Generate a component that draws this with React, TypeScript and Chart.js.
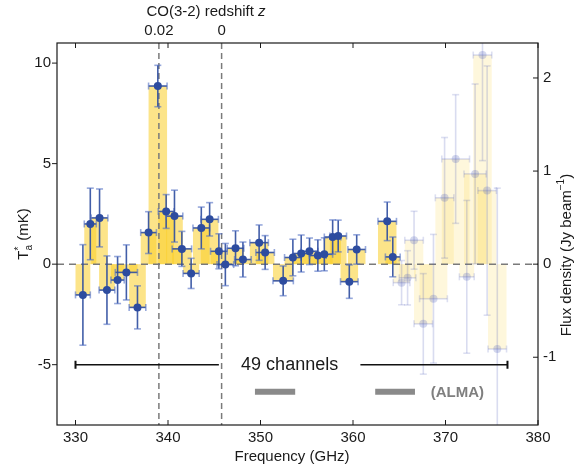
import React, { useEffect, useRef } from "react";
import { Chart, registerables } from "chart.js";
Chart.register(...registerables);

// Main (solid) channels: frequency (GHz), T*a (mK), 1-sigma error (mK), half channel width (GHz)
const freqMain = [330.8, 331.6, 332.6, 333.4, 334.55, 335.5, 336.7, 337.9, 338.9, 339.8, 340.7, 341.5, 342.5, 343.6, 344.5, 345.5, 346.2, 347.3, 348.1, 349.85, 350.5, 352.45, 353.5, 354.4, 355.3, 356.2, 356.9, 357.8, 358.4, 359.6, 360.4, 363.7, 364.3];
const taMain = [-1.53, 2.0, 2.3, -1.29, -0.79, -0.41, -2.15, 1.57, 8.86, 2.62, 2.39, 0.76, -0.46, 1.8, 2.23, 0.64, -0.02, 0.79, 0.23, 1.07, 0.58, -0.83, 0.33, 0.53, 0.64, 0.43, 0.49, 1.35, 1.4, -0.87, 0.73, 2.13, 0.36];
const errMain = [2.5, 1.78, 1.44, 1.7, 1.17, 1.37, 1.07, 1.04, 1.03, 0.84, 1.29, 0.87, 0.75, 1.04, 0.83, 0.87, 1.05, 0.87, 0.87, 0.88, 0.84, 0.74, 0.91, 0.92, 0.66, 0.78, 0.82, 0.85, 0.79, 0.83, 0.73, 0.96, 0.99];
const halfMain = [0.8, 0.65, 0.9, 0.85, 0.72, 1.2, 0.9, 0.85, 1.0, 0.85, 0.9, 1.05, 0.87, 0.9, 0.95, 0.9, 0.9, 0.9, 0.9, 1.0, 1.0, 1.1, 0.9, 0.9, 0.9, 0.9, 0.9, 0.9, 0.9, 0.95, 0.95, 1.0, 0.8];

// Faded (edge) channels
const freqFaint = [365.25, 365.9, 366.6, 367.6, 368.7, 369.9, 371.1, 372.3, 373.2, 374.0, 374.5, 375.6];
const taFaint = [-0.92, -0.68, 1.19, -2.97, -1.72, 3.3, 5.23, -0.63, 4.49, 10.4, 3.66, -4.22];
const errFaint = [1.1, 1.35, 1.44, 2.5, 3.2, 3.0, 3.2, 3.8, 4.47, 5.25, 6.2, 8.0];
const halfFaint = [0.9, 0.9, 1.0, 1.0, 1.5, 1.0, 1.5, 0.8, 1.2, 1.0, 1.0, 1.0];

// Axes
const xTicks = [330, 340, 350, 360, 370, 380];
const yTicks = [-5, 0, 5, 10];
const fluxTicks = [-1, 0, 1, 2];
const zTicks = [0.02, 0];
const CO32_REST = 345.796; // GHz
const MK_PER_JY = 4.63;
const X_MIN = 328, X_MAX = 380, Y_MIN = -8, Y_MAX = 11;

// Annotations (data units)
const channelSpan = [330, 376.7];
const channelGap = [345.5, 360.8];
const channelLevel = -5;
const almaRanges = [[349.4, 353.75], [362.4, 366.7]];
const almaLevel = -6.34;
const almaLabelFreq = 368.4;

const FONT = "'Liberation Sans', Arial, Helvetica, sans-serif";
const BLUE = "rgb(45,76,159)";

function zToFreq(z: number) {
  return CO32_REST / (1 + z);
}

function drawSegments(ctx: CanvasRenderingContext2D, segs: any[], cx: number, cy: number) {
  // segs: {text, size, dy, italic, stackWithPrev}
  let total = 0;
  const widths: number[] = [];
  segs.forEach((s) => {
    ctx.font = `${s.italic ? "italic " : ""}${s.size}px ${FONT}`;
    const w = ctx.measureText(s.text).width;
    widths.push(w);
  });
  segs.forEach((s, i) => {
    if (s.stack) {
      total += Math.max(0, widths[i] - widths[i - 1]);
    } else total += widths[i];
  });
  let x = cx - total / 2;
  let prevX = x;
  segs.forEach((s, i) => {
    ctx.font = `${s.italic ? "italic " : ""}${s.size}px ${FONT}`;
    ctx.textBaseline = "middle";
    ctx.textAlign = "left";
    if (s.stack) {
      ctx.fillText(s.text, prevX, cy + s.dy);
      x = Math.max(x, prevX + widths[i]);
    } else {
      ctx.fillText(s.text, x, cy + s.dy);
      prevX = x;
      x += widths[i];
    }
  });
}

const customPlugin = {
  id: "spectrumDecor",
  beforeDatasetsDraw(chart: any) {
    const { ctx, chartArea: a, scales } = chart;
    const xs = scales.x, ys = scales.y;
    ctx.save();
    ctx.beginPath();
    ctx.rect(a.left, a.top, a.right - a.left, a.bottom - a.top);
    ctx.clip();
    const bar = (f: number, v: number, h: number, color: string) => {
      const x0 = xs.getPixelForValue(f - h), x1 = xs.getPixelForValue(f + h);
      const y0 = ys.getPixelForValue(0), y1 = ys.getPixelForValue(v);
      ctx.fillStyle = color;
      ctx.fillRect(x0, Math.min(y0, y1), x1 - x0, Math.abs(y1 - y0));
    };
    freqFaint.forEach((f, i) => bar(f, taFaint[i], halfFaint[i], "rgba(250,205,40,0.16)"));
    freqMain.forEach((f, i) => bar(f, taMain[i], halfMain[i], "rgba(250,205,40,0.55)"));

    // dashed reference lines
    ctx.strokeStyle = "#7a7a7a";
    ctx.lineWidth = 1.5;
    ctx.setLineDash([7, 5]);
    const y0 = ys.getPixelForValue(0);
    ctx.beginPath();
    ctx.moveTo(a.left, y0);
    ctx.lineTo(a.right, y0);
    ctx.stroke();
    ctx.setLineDash([6, 4]);
    zTicks.forEach((z) => {
      const px = xs.getPixelForValue(zToFreq(z));
      ctx.beginPath();
      ctx.moveTo(px, a.top);
      ctx.lineTo(px, a.bottom);
      ctx.stroke();
    });
    ctx.setLineDash([]);

    const line = (x1: number, y1: number, x2: number, y2: number) => {
      ctx.beginPath();
      ctx.moveTo(x1, y1);
      ctx.lineTo(x2, y2);
      ctx.stroke();
    };
    const err = (f: number, v: number, e: number, h: number, lc: string, cc: string) => {
      const px = xs.getPixelForValue(f), py = ys.getPixelForValue(v);
      const pt = ys.getPixelForValue(v + e), pb = ys.getPixelForValue(v - e);
      const pl = xs.getPixelForValue(f - h), pr = xs.getPixelForValue(f + h);
      ctx.lineWidth = 1.6;
      ctx.strokeStyle = lc;
      line(px, pt, px, pb);
      line(pl, py, pr, py);
      ctx.strokeStyle = cc;
      const c = 3.5;
      line(px - c, pt, px + c, pt);
      line(px - c, pb, px + c, pb);
      line(pl, py - c, pl, py + c);
      line(pr, py - c, pr, py + c);
    };
    freqFaint.forEach((f, i) => err(f, taFaint[i], errFaint[i], halfFaint[i], "rgba(80,95,185,0.22)", "rgba(80,95,185,0.2)"));
    freqMain.forEach((f, i) => err(f, taMain[i], errMain[i], halfMain[i], "rgba(45,76,159,0.9)", "rgba(80,110,195,0.6)"));
    ctx.restore();
  },
  afterDraw(chart: any) {
    const { ctx, chartArea: a, scales } = chart;
    const xs = scales.x, ys = scales.y, yr = scales.yR;
    ctx.save();
    // frame
    ctx.strokeStyle = "#1a1a1a";
    ctx.lineWidth = 1.2;
    ctx.strokeRect(a.left, a.top, a.right - a.left, a.bottom - a.top);
    // tick marks
    ctx.lineWidth = 1;
    const tl = 5;
    xTicks.forEach((v) => {
      const px = xs.getPixelForValue(v);
      ctx.beginPath();
      ctx.moveTo(px, a.bottom);
      ctx.lineTo(px, a.bottom - tl);
      ctx.moveTo(px, a.top);
      ctx.lineTo(px, a.top + tl);
      ctx.stroke();
    });
    yTicks.forEach((v) => {
      const py = ys.getPixelForValue(v);
      ctx.beginPath();
      ctx.moveTo(a.left, py);
      ctx.lineTo(a.left - tl, py);
      ctx.stroke();
    });
    fluxTicks.forEach((v) => {
      const py = yr.getPixelForValue(v);
      ctx.beginPath();
      ctx.moveTo(a.right, py);
      ctx.lineTo(a.right - tl, py);
      ctx.stroke();
    });

    // 49 channels bracket
    const ly = ys.getPixelForValue(channelLevel);
    const xL = xs.getPixelForValue(channelSpan[0]), xR = xs.getPixelForValue(channelSpan[1]);
    const gL = xs.getPixelForValue(channelGap[0]), gR = xs.getPixelForValue(channelGap[1]);
    ctx.strokeStyle = "#111";
    ctx.lineWidth = 1.5;
    ctx.beginPath();
    ctx.moveTo(xL, ly); ctx.lineTo(gL, ly);
    ctx.moveTo(gR, ly); ctx.lineTo(xR, ly);
    ctx.stroke();
    ctx.lineWidth = 2;
    ctx.beginPath();
    ctx.moveTo(xL, ly - 4); ctx.lineTo(xL, ly + 4);
    ctx.moveTo(xR, ly - 4); ctx.lineTo(xR, ly + 4);
    ctx.stroke();
    ctx.fillStyle = "#1a1a1a";
    ctx.font = `18px ${FONT}`;
    ctx.textAlign = "center";
    ctx.textBaseline = "middle";
    ctx.fillText("49 channels", (gL + gR) / 2, ly);

    // ALMA bars
    const ay = ys.getPixelForValue(almaLevel);
    ctx.strokeStyle = "#8a8a8a";
    ctx.lineWidth = 6;
    almaRanges.forEach((r) => {
      ctx.beginPath();
      ctx.moveTo(xs.getPixelForValue(r[0]), ay);
      ctx.lineTo(xs.getPixelForValue(r[1]), ay);
      ctx.stroke();
    });
    ctx.fillStyle = "#7f7f7f";
    ctx.font = `bold 15px ${FONT}`;
    ctx.textAlign = "left";
    ctx.fillText("(ALMA)", xs.getPixelForValue(almaLabelFreq), ay + 1);

    // titles
    ctx.fillStyle = "#1a1a1a";
    drawSegments(ctx, [{ text: "Frequency (GHz)", size: 15, dy: 0 }], 292, 457);
    drawSegments(ctx, [
      { text: "CO(3-2) redshift ", size: 15, dy: 0 },
      { text: "z", size: 15, dy: 0, italic: true },
    ], 206, 12);

    ctx.save();
    ctx.translate(24, 234);
    ctx.rotate(-Math.PI / 2);
    drawSegments(ctx, [
      { text: "T", size: 15, dy: 0 },
      { text: "*", size: 10, dy: -5 },
      { text: "a", size: 10, dy: 5, stack: true },
      { text: " (mK)", size: 15, dy: 0 },
    ], 0, 0);
    ctx.restore();

    ctx.save();
    ctx.translate(567, 255);
    ctx.rotate(-Math.PI / 2);
    drawSegments(ctx, [
      { text: "Flux density (Jy beam", size: 15, dy: 0 },
      { text: "\u22121", size: 10, dy: -6 },
      { text: ")", size: 15, dy: 0 },
    ], 0, 0);
    ctx.restore();

    ctx.restore();
  },
};

export default function App() {
  const ref = useRef<HTMLCanvasElement>(null);
  useEffect(() => {
    const tickFont = { family: FONT, size: 15 };
    const chart = new Chart(ref.current!, {
      type: "scatter",
      data: {
        datasets: [
          {
            label: "faint",
            data: freqFaint.map((f, i) => ({ x: f, y: taFaint[i] })),
            pointRadius: 4,
            pointBackgroundColor: "rgba(80,95,185,0.25)",
            pointBorderWidth: 0,
            xAxisID: "x",
            yAxisID: "y",
          },
          {
            label: "main",
            data: freqMain.map((f, i) => ({ x: f, y: taMain[i] })),
            pointRadius: 4,
            pointBackgroundColor: BLUE,
            pointBorderWidth: 0,
            xAxisID: "x",
            yAxisID: "y",
          },
        ],
      },
      options: {
        responsive: false,
        animation: false,
        events: [],
        layout: { padding: 0 },
        plugins: { legend: { display: false }, tooltip: { enabled: false } },
        scales: {
          x: {
            type: "linear",
            position: "bottom",
            min: X_MIN,
            max: X_MAX,
            afterBuildTicks: (s: any) => { s.ticks = xTicks.map((v) => ({ value: v })); },
            afterFit: (s: any) => { s.height = 45; },
            grid: { display: false, drawTicks: false },
            border: { display: false },
            ticks: { font: tickFont, color: "#1a1a1a", padding: 4, maxRotation: 0, autoSkip: false, callback: (v: any) => String(v) },
          },
          xTop: {
            type: "linear",
            position: "top",
            min: X_MIN,
            max: X_MAX,
            afterBuildTicks: (s: any) => { s.ticks = zTicks.map((z) => ({ value: zToFreq(z) })); },
            afterFit: (s: any) => { s.height = 43; },
            grid: { display: false, drawTicks: false },
            border: { display: false },
            ticks: { font: tickFont, color: "#1a1a1a", padding: 3, maxRotation: 0, autoSkip: false, callback: (_v: any, i: number) => String(zTicks[i]) },
          },
          y: {
            type: "linear",
            position: "left",
            min: Y_MIN,
            max: Y_MAX,
            afterBuildTicks: (s: any) => { s.ticks = yTicks.map((v) => ({ value: v })); },
            afterFit: (s: any) => { s.width = 57; },
            grid: { display: false, drawTicks: false },
            border: { display: false },
            ticks: { font: tickFont, color: "#1a1a1a", padding: 6, autoSkip: false, callback: (v: any) => String(v) },
          },
          yR: {
            type: "linear",
            position: "right",
            min: Y_MIN / MK_PER_JY,
            max: Y_MAX / MK_PER_JY,
            afterBuildTicks: (s: any) => { s.ticks = fluxTicks.map((v) => ({ value: v })); },
            afterFit: (s: any) => { s.width = 37; },
            grid: { display: false, drawTicks: false },
            border: { display: false },
            ticks: { font: tickFont, color: "#1a1a1a", padding: 5, autoSkip: false, callback: (v: any) => String(Math.round(v)) },
          },
        },
      },
      plugins: [customPlugin],
    } as any);
    return () => chart.destroy();
  }, []);
  return (
    <div style={{ position: "absolute", left: 0, top: 0, width: 575, height: 470 }}>
      <canvas ref={ref} width={575} height={470} style={{ display: "block" }} />
    </div>
  );
}
